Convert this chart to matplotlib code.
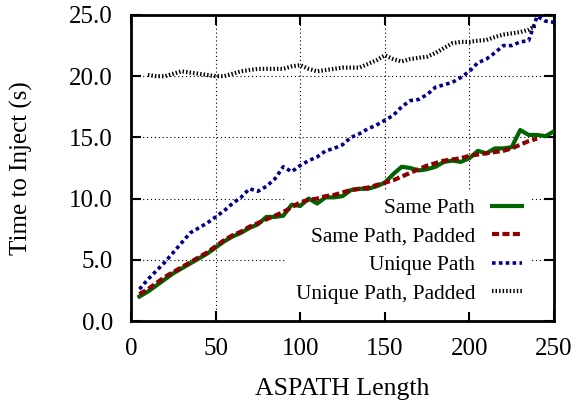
import matplotlib
matplotlib.use('Agg')
import matplotlib.pyplot as plt
import numpy as np

#--------------- data ------------------------------------------#
x_same = np.arange(5, 255, 5)
same_path = [2.0, 2.4, 2.9, 3.4, 3.9, 4.3, 4.7, 5.1, 5.5, 6.0,
             6.5, 6.9, 7.2, 7.6, 7.9, 8.5, 8.5, 8.6, 9.5, 9.4,
             10.0, 9.6, 10.1, 10.1, 10.2, 10.7, 10.8, 10.8, 11.0, 11.3,
             12.0, 12.6, 12.5, 12.3, 12.4, 12.6, 13.0, 13.1, 13.0, 13.3,
             13.9, 13.7, 14.1, 14.1, 14.2, 15.6, 15.2, 15.2, 15.1, 15.5]

x_same_pad = np.arange(5, 245, 5)
same_path_padded = [2.2, 2.6, 3.1, 3.6, 4.0, 4.4, 4.8, 5.2, 5.6, 6.1,
                    6.6, 7.0, 7.3, 7.7, 8.0, 8.3, 8.6, 8.9, 9.3, 9.7,
                    9.9, 10.0, 10.2, 10.3, 10.5, 10.7, 10.8, 10.9, 11.1, 11.3,
                    11.5, 11.8, 12.1, 12.4, 12.7, 12.9, 13.1, 13.2, 13.3, 13.5,
                    13.6, 13.7, 13.8, 13.9, 14.1, 14.4, 14.7, 14.9]

x_unique = np.arange(5, 255, 5)
unique_path = [2.6, 3.4, 4.1, 4.8, 5.6, 6.4, 7.2, 7.6, 8.0, 8.5,
               9.0, 9.6, 10.1, 10.8, 10.6, 11.0, 11.6, 12.6, 12.2, 12.7,
               13.1, 13.4, 13.9, 14.1, 14.4, 15.0, 15.3, 15.7, 16.0, 16.4,
               16.8, 17.5, 18.0, 18.1, 18.5, 19.1, 19.3, 19.5, 19.9, 20.4,
               21.1, 21.4, 21.9, 22.5, 22.5, 22.8, 22.9, 24.9, 24.5, 24.4]

x_unique_pad = np.arange(10, 245, 5)
unique_path_padded = [20.1, 20.0, 20.0, 20.2, 20.4, 20.3, 20.2, 20.1, 20.0,
                      20.0, 20.2, 20.4, 20.5, 20.6, 20.6, 20.6, 20.6, 20.8, 20.9,
                      20.6, 20.4, 20.5, 20.6, 20.7, 20.7, 20.7, 21.0, 21.3, 21.7,
                      21.4, 21.2, 21.4, 21.5, 21.6, 21.9, 22.3, 22.7, 22.8, 22.8,
                      22.9, 22.95, 23.2, 23.4, 23.5, 23.6, 23.8, 24.2]

#--------------- writing plot -----------------#
plt.rcParams['font.family'] = ['Liberation Serif', 'DejaVu Serif']

fig = plt.figure(figsize=(5.78, 4.05), dpi=100)
ax = fig.add_axes([0.2266, 0.2074, 0.9585 - 0.2266, 0.963 - 0.2074])

ax.plot(x_same, same_path, color='#006400', lw=3, label='Same Path', zorder=3)
ax.plot(x_same_pad, same_path_padded, color='#8b0000', lw=3,
        linestyle=(0, (1.7, 0.8)), dash_capstyle='butt',
        label='Same Path, Padded', zorder=3)
ax.plot(x_unique, unique_path, color='#00008b', lw=2.6,
        linestyle=(0, (1.0, 0.9)), dash_capstyle='butt',
        label='Unique Path', zorder=3)
ax.plot(x_unique_pad, unique_path_padded, color='black', lw=3,
        linestyle=(0, (0.35, 0.5)), dash_capstyle='butt',
        label='Unique Path, Padded', zorder=3)

ax.set_xlim(0, 250)
ax.set_ylim(0, 25)
ax.set_xticks(np.arange(0, 251, 50))
ax.set_yticks(np.arange(0, 25.1, 5))
ax.set_yticklabels(['%.1f' % v for v in np.arange(0, 25.1, 5)])

ax.grid(True, color='black', linestyle=(0, (1, 2.5)), lw=0.8, zorder=1)
ax.set_axisbelow(True)

ax.tick_params(direction='in', length=7, width=1.5, top=True, right=True,
               labelsize=18)
ax.tick_params(axis='x', pad=12)
ax.tick_params(axis='y', pad=13)
for sp in ax.spines.values():
    sp.set_linewidth(2)

ax.set_xlabel('ASPATH Length', fontsize=18.5, labelpad=13)
ax.set_ylabel('Time to Inject (s)', fontsize=18, labelpad=26)

# key box sits under the curves, as in the gnuplot original
leg = ax.legend(loc='lower right', bbox_to_anchor=(0.944, 0.028),
                markerfirst=False, frameon=True, fancybox=False,
                facecolor='white', edgecolor='none', framealpha=1,
                fontsize=15.3, handlelength=1.4, handletextpad=0.8,
                labelspacing=0.41, borderpad=0.4, borderaxespad=0)
leg.set_zorder(2)

plt.savefig('out.png', dpi=100)
